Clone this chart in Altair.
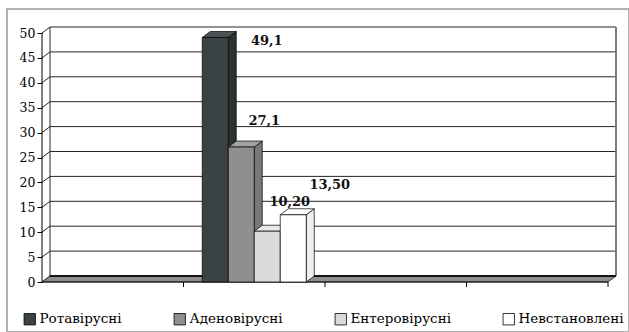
import altair as alt
import pandas as pd

# ---------------- data ----------------
series = ["Ротавірусні", "Аденовірусні", "Ентеровірусні", "Невстановлені"]
values = [49.1, 27.1, 10.2, 13.5]
value_labels = ["49,1", "27,1", "10,20", "13,50"]
y_ticks = [0, 5, 10, 15, 20, 25, 30, 35, 40, 45, 50]
n_cats = 4          # category slots along the floor
data_cat = 1        # the series sit in the 2nd slot

# ---------------- styles / layout ----------------
FONT = "DejaVu Serif"
front_colors = ["#3b4243", "#8f8f91", "#d9dbdd", "#ffffff"]
top_colors = ["#4b5253", "#a2a2a4", "#e7e8ea", "#ffffff"]
side_colors = ["#2c3132", "#78787b", "#c5c7c9", "#efefef"]
label_dx_px = [51.5, 23, 22.5, 36.5]
label_dy_px = [3.5, -26, -29, -30]

PX_L, CAT_W = 42, 141.5
PX0_Y, PX_PER_UNIT = 282, 4.98
DEPTH_X, DEPTH_Y = 8, 6
VIEW_L, VIEW_T, VIEW_W, VIEW_H = 7, 9, 622, 323
BAR_W_PX = 26

ddx = DEPTH_X / CAT_W
ddy = DEPTH_Y / PX_PER_UNIT
bw = BAR_W_PX / CAT_W
x_dom = [(VIEW_L - PX_L) / CAT_W, (VIEW_L + VIEW_W - PX_L) / CAT_W]
y_dom = [(PX0_Y - VIEW_T - VIEW_H) / PX_PER_UNIT, (PX0_Y - VIEW_T) / PX_PER_UNIT]
ymax = max(y_ticks)

xs = alt.Scale(domain=x_dom, nice=False, zero=False)
ys = alt.Scale(domain=y_dom, nice=False, zero=False)
y_axis = alt.Axis(values=y_ticks, title=None, grid=False, domain=False, offset=-(PX_L - VIEW_L),
                  tickSize=5, tickColor="black", labelFont=FONT, labelFontSize=12.5,
                  labelColor="black", labelPadding=2)


def X(f):
    return alt.X(f, type="quantitative", scale=xs, axis=None, title=None)


def Y(f):
    return alt.Y(f, type="quantitative", scale=ys, axis=y_axis, title=None)


# ---------------- tables ----------------
grid_back = pd.DataFrame({"x": ddx, "x2": n_cats + ddx, "y": [g + ddy for g in y_ticks if g > 0]})
grid_left = pd.DataFrame({"x": 0.0, "x2": ddx, "y": y_ticks, "y2": [g + ddy for g in y_ticks]})
edges = pd.DataFrame({"x": [ddx], "y": [ddy], "y2": [ymax + ddy]})
edge_right = pd.DataFrame({"x": [n_cats + ddx], "y": [ddy], "y2": [ymax + ddy]})
floor = pd.DataFrame({"x": [0, ddx, n_cats, n_cats + ddx],
                      "y": [0, ddy, ddy, ddy], "y2": [0, 0, 0, ddy]})
floor_back = pd.DataFrame({"x": [ddx], "x2": [n_cats + ddx], "y": [ddy]})
floor_front = pd.DataFrame({"x": [0.0], "x2": [float(n_cats)], "y": [0.0]})
axis_line = pd.DataFrame({"x": [0.0], "y": [0.0], "y2": [float(ymax)]})
xticks = pd.DataFrame({"x": [float(c) for c in range(1, n_cats + 1)], "y": 0.0, "y2": -1.0})

left0 = data_cat + 0.5 - len(series) / 2 * bw
fronts, tops, sides, labels = [], [], [], []
for i, (s, v) in enumerate(zip(series, values)):
    x0 = left0 + i * bw
    x1 = x0 + bw
    fronts.append({"series": s, "x": x0, "x2": x1, "y": 0.0, "y2": v})
    for px, py, py2 in [(x0, v, v), (x0 + ddx, v + ddy, v), (x1, v + ddy, v), (x1 + ddx, v + ddy, v + ddy)]:
        tops.append({"series": s, "fill": top_colors[i], "x": px, "y": py, "y2": py2})
    for px, py, py2 in [(x1, v, 0.0), (x1 + ddx, v + ddy, ddy)]:
        sides.append({"series": s, "fill": side_colors[i], "x": px, "y": py, "y2": py2})
    labels.append({"text": value_labels[i],
                   "x": x0 + bw / 2 + label_dx_px[i] / CAT_W,
                   "y": v - label_dy_px[i] / PX_PER_UNIT})
fronts = pd.DataFrame(fronts)
tops = pd.DataFrame(tops)
sides = pd.DataFrame(sides)
labels = pd.DataFrame(labels)

GRID = "#262626"

layers = [
    alt.Chart(grid_back).mark_rule(color=GRID, strokeWidth=1).encode(x=X("x"), x2="x2", y=Y("y")),
    alt.Chart(grid_left).mark_rule(color=GRID, strokeWidth=1).encode(x=X("x"), x2="x2", y=Y("y"), y2="y2"),
    alt.Chart(edges).mark_rule(color=GRID, strokeWidth=1).encode(x=X("x"), y=Y("y"), y2="y2"),
    alt.Chart(edge_right).mark_rule(color="#7a7a7a", strokeWidth=2).encode(x=X("x"), y=Y("y"), y2="y2"),
    alt.Chart(floor).mark_area(color="#8e8e8e", stroke="#1a1a1a", strokeWidth=0.8, opacity=1)
        .encode(x=X("x"), y=Y("y"), y2="y2"),
    alt.Chart(floor_back).mark_rule(color="#111111", strokeWidth=2).encode(x=X("x"), x2="x2", y=Y("y")),
    alt.Chart(floor_front).mark_rule(color="#111111", strokeWidth=1).encode(x=X("x"), x2="x2", y=Y("y")),
    alt.Chart(axis_line).mark_rule(color="black", strokeWidth=1).encode(x=X("x"), y=Y("y"), y2="y2"),
    alt.Chart(xticks).mark_rule(color="black", strokeWidth=1).encode(x=X("x"), y=Y("y"), y2="y2"),
    alt.Chart(sides).mark_area(stroke="black", strokeWidth=0.7, opacity=1)
        .encode(x=X("x"), y=Y("y"), y2="y2", fill=alt.Fill("fill:N", scale=None), detail="series:N"),
    alt.Chart(tops).mark_area(stroke="black", strokeWidth=0.7, opacity=1)
        .encode(x=X("x"), y=Y("y"), y2="y2", fill=alt.Fill("fill:N", scale=None), detail="series:N"),
    alt.Chart(fronts).mark_rect(stroke="black", strokeWidth=0.7, opacity=1).encode(
        x=X("x"), x2="x2", y=Y("y"), y2="y2",
        color=alt.Color("series:N", sort=series,
                        scale=alt.Scale(domain=series, range=front_colors),
                        legend=alt.Legend(orient="none", legendX=16, legendY=303, direction="horizontal",
                                          title=None, symbolType="square", symbolSize=130,
                                          symbolStrokeColor="black", symbolStrokeWidth=0.8,
                                          symbolOpacity=1,
                                          labelFont=FONT, labelFontSize=13.5,
                                          labelColor="black", columnPadding=50, labelOffset=3,
                                          padding=0, labelLimit=0))),
    alt.Chart(labels).mark_text(font=FONT, fontSize=13, fontWeight="bold",
                                color="#111111", align="center", baseline="middle")
        .encode(x=X("x"), y=Y("y"), text="text:N"),
]

chart = alt.layer(*layers).properties(
    width=VIEW_W, height=VIEW_H,
    autosize=alt.AutoSizeParams(type="none"),
    padding={"left": VIEW_L, "top": VIEW_T, "right": 0, "bottom": 0},
    background="white",
).configure_view(stroke="#b2b2b2", strokeWidth=2)

chart.save("out.html", embed_options={"renderer": "svg", "actions": False})
